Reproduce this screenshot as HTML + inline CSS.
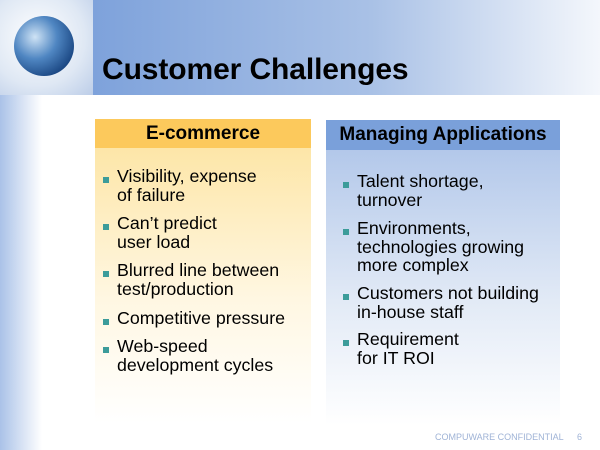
<!DOCTYPE html>
<html><head><style>
body{margin:0;width:600px;height:450px;position:relative;overflow:hidden;background:#fff;font-family:"Liberation Sans",Arial,sans-serif}
.a{position:absolute}
.hdr{left:93px;top:0;width:507px;height:95px;background:linear-gradient(90deg,#7ea2db 0%,#a9c1e6 55%,#f4f7fc 100%)}
.strip{left:0;top:95px;width:42px;height:355px;background:linear-gradient(90deg,#aac2e8,#fff)}
.globebg{left:0;top:0;width:93px;height:95px;background:radial-gradient(circle at 40% 40%,#fff,#dfe8f4 60%,#bccde8)}
.globe{left:14px;top:16px;width:60px;height:60px;border-radius:50%;background:radial-gradient(circle at 35% 35%,#cfe3f5,#4f86c2 40%,#1d4a86 75%,#0c2a55)}
.title{left:102px;top:53px;font-size:30px;font-weight:bold;color:#000;letter-spacing:-0.1px}
.lh{left:95px;top:119px;width:216px;height:29px;background:#fcc95c;text-align:center;font-size:19px;font-weight:bold;line-height:29px}
.lb{left:95px;top:148px;width:216px;height:275px;background:linear-gradient(180deg,#fde6a8,#fff7e2 55%,#fff)}
.rh{left:326px;top:120px;width:234px;height:30px;background:#7aa0da;text-align:center;font-size:19px;font-weight:bold;line-height:30px}
.rb{left:326px;top:150px;width:234px;height:275px;background:linear-gradient(180deg,#b3c8ea,#e2eaf6 55%,#fff)}
.t{position:absolute;font-size:17.8px;line-height:18.5px;color:#000}
.b{position:absolute;width:6px;height:6px;background:#3c9c9a}
.foot{left:435px;top:432px;font-size:9px;color:#9fb3d6}
.pg{left:577px;top:432px;font-size:9px;color:#9fb3d6}
</style></head><body>
<div class="a hdr"></div>
<div class="a globebg"></div>
<div class="a globe"></div>
<div class="a strip"></div>
<div class="a title">Customer Challenges</div>
<div class="a lb"></div>
<div class="a lh">E-commerce</div>
<div class="a rb"></div>
<div class="a rh">Managing Applications</div>

<div class="b" style="left:103px;top:177px"></div><div class="t" style="left:117px;top:167px">Visibility, expense<br>of failure</div>
<div class="b" style="left:103px;top:224px"></div><div class="t" style="left:117px;top:214px">Can’t predict<br>user load</div>
<div class="b" style="left:103px;top:271px"></div><div class="t" style="left:117px;top:261px">Blurred line between<br>test/production</div>
<div class="b" style="left:103px;top:319px"></div><div class="t" style="left:117px;top:309px">Competitive pressure</div>
<div class="b" style="left:103px;top:347px"></div><div class="t" style="left:117px;top:337px">Web-speed<br>development cycles</div>

<div class="b" style="left:343px;top:182px"></div><div class="t" style="left:357px;top:172px">Talent shortage,<br>turnover</div>
<div class="b" style="left:343px;top:229px"></div><div class="t" style="left:357px;top:219px">Environments,<br>technologies growing<br>more complex</div>
<div class="b" style="left:343px;top:294px"></div><div class="t" style="left:357px;top:284px">Customers not building<br>in-house staff</div>
<div class="b" style="left:343px;top:340px"></div><div class="t" style="left:357px;top:330px">Requirement<br>for IT ROI</div>

<div class="a foot">COMPUWARE CONFIDENTIAL</div>
<div class="a pg">6</div>
</body></html>
